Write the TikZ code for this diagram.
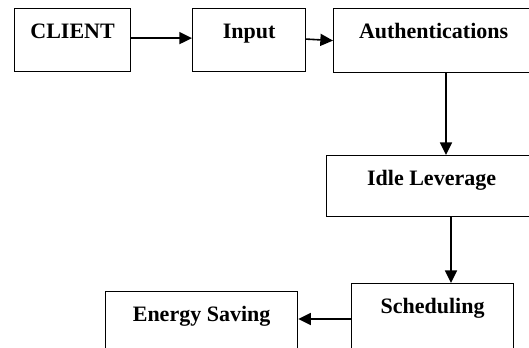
\documentclass[tikz,border=0pt]{standalone}
\usepackage{fontspec}
\setmainfont{Liberation Serif}
\usepackage{tikz}
\usetikzlibrary{arrows.meta,positioning}

\begin{document}
\begin{tikzpicture}[x=0.75pt,y=-0.75pt,
box/.style={draw,line width=0.9pt,anchor=north west,inner xsep=0pt,inner ysep=0pt,
text height=22.5pt,font=\bfseries\fontsize{16.5}{19}\selectfont},
link/.style={line width=1.2pt,-{Triangle[length=9.5pt,width=9pt]}}]
\useasboundingbox (0,0) rectangle (529,348);
\clip (0,0) rectangle (529,348);
\node[box,minimum width=87pt,text depth=24.75pt] (client) at (14,8) {CLIENT};
\node[box,minimum width=84.75pt,text depth=24.75pt] (input) at (192,8) {Input};
\node[box,minimum width=150pt,text depth=25.5pt] (auth) at (333,8) {Authentications};
\node[box,minimum width=157.5pt,text depth=23.25pt] (idle) at (326,155) {Idle Leverage};
\node[box,minimum width=121.5pt,text depth=37.5pt] (sched) at (351,283) {Scheduling};
\node[box,minimum width=144pt,text depth=31.5pt] (energy) at (105,291) {Energy Saving};
\coordinate (c1) at (446,0);
\coordinate (c2) at (451,0);
\coordinate (r1) at (0,319);
\draw[link] ([yshift=1.5pt]client.east) -- ([yshift=1.5pt]input.west);
\draw[link] ([yshift=0.75pt]input.east) -- (auth.west);
\draw[link] (auth.south -| c1) -- (idle.north -| c1);
\draw[link] (idle.south -| c2) -- (sched.north -| c2);
\draw[link] (sched.west |- r1) -- (energy.east |- r1);
\end{tikzpicture}
\end{document}
